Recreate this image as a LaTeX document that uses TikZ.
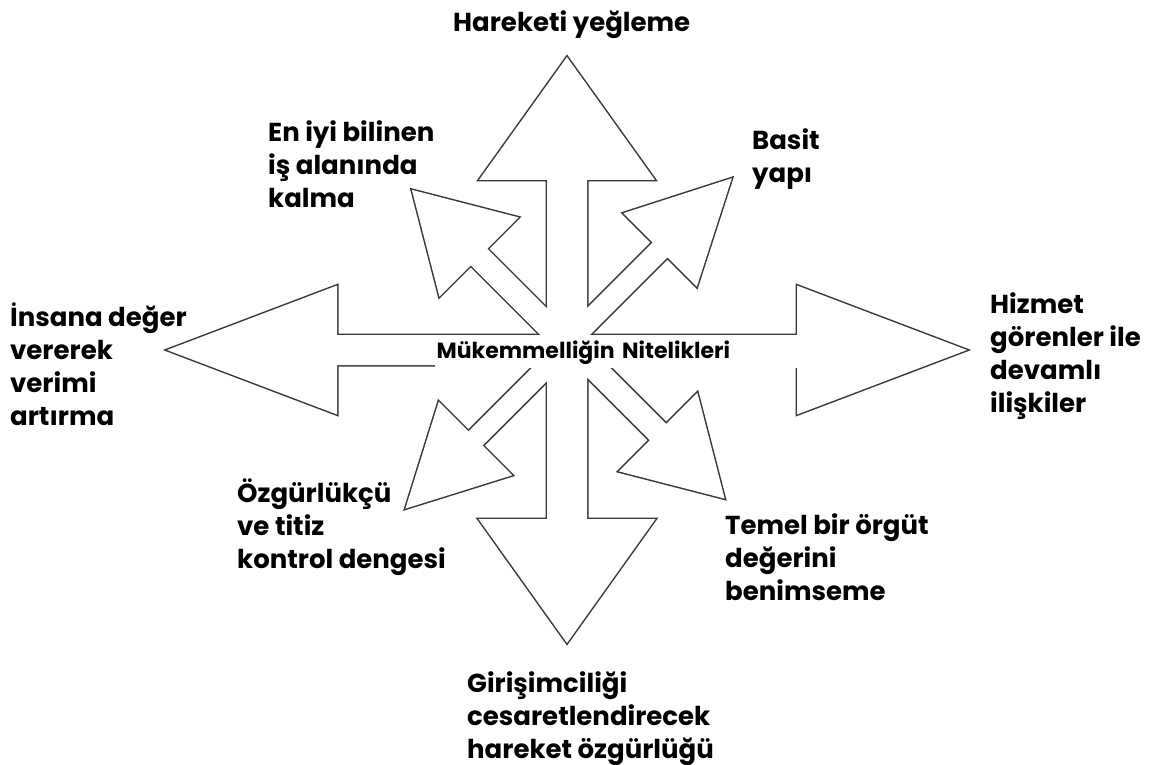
\documentclass[tikz,border=0pt]{standalone}
\usepackage{fontspec}
\setmainfont{Poppins}
\tikzset{
  arr/.style n args={4}{insert path={(0,-#4) -- (#1,-#4) -- (#1,-#3) -- (#2,0) -- (#1,#3) -- (#1,#4) -- (0,#4) -- cycle}},
  outl/.style={draw=black!78, line width=3pt, line join=miter},
  wfill/.style={fill=white},
  lbl/.style={anchor=north west, inner sep=0pt, align=left, font=\fontsize{26}{33}\selectfont\bfseries, text=black},
}
\newcommand\allarrows[1]{%
  % vertical and horizontal arrows
  \path[#1, shift={(567,344)}, rotate=90]  [arr={164}{287}{88}{20}];
  \path[#1, shift={(567,344)}, rotate=270] [arr={175}{299}{88.5}{20}];
  \path[#1, shift={(567,350)}, rotate=180] [arr={230}{400}{64.5}{15}];
  \path[#1, shift={(567,350)}, rotate=0]   [arr={230}{400}{64.5}{15}];
  % diagonal arrows
  \path[#1, shift={(566,344)}, rotate=135] [arr={123}{218}{56}{11.7}];
  \path[#1, shift={(566,344)}, rotate=45]  [arr={133}{234.5}{52}{10.6}];
  \path[#1, shift={(568,346)}, rotate=225] [arr={130.8}{230}{52}{10}];
  \path[#1, shift={(568,342)}, rotate=315] [arr={127.3}{221.5}{55.6}{11.6}];
}
\begin{document}
\begin{tikzpicture}[x=1pt,y=-1pt]
\useasboundingbox (0,0) rectangle (1152,765);
\fill[white] (0,0) rectangle (1152,765);
\allarrows{outl}
\allarrows{wfill}
\node (title) [fill=white, anchor=west, inner sep=1.5pt, minimum height=31pt, text width=359pt, align=left,
  font=\fontsize{22}{24}\selectfont\bfseries] at (435,352.5) {Mükemmelliğin Nitelikleri};
\node[lbl] (up) at (453,10) {Hareketi yeğleme};
\node[lbl] (ul) at (268,120) {En iyi bilinen\\iş alanında\\kalma};
\node[lbl] (ur) at (752,128) {Basit\\yapı};
\node[lbl] (lt) at (10,303) {İnsana değer\\vererek\\verimi\\artırma};
\node[lbl] (rt) at (990,292) {Hizmet\\görenler ile\\devamlı\\ilişkiler};
\node[lbl] (dl) at (237,479) {Özgürlükçü\\ve titiz\\kontrol dengesi};
\node[lbl] (dr) at (725,513) {Temel bir örgüt\\değerini\\benimseme};
\node[lbl] (dn) at (467,671) {Girişimciliği\\cesaretlendirecek\\hareket özgürlüğü};
\end{tikzpicture}
\end{document}
